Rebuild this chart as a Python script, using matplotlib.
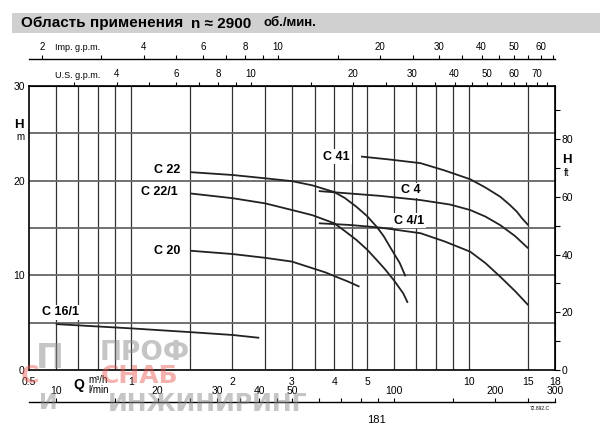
import matplotlib.pyplot as plt
import matplotlib.ticker as mticker
from matplotlib.patches import Rectangle

plt.rcParams['font.family'] = ['Liberation Sans', 'DejaVu Sans']

# Q, m3/h  /  H, m
q_c16_1 = [0.6, 1.0, 1.5, 2.0, 2.4]
h_c16_1 = [4.85, 4.4, 4.0, 3.7, 3.4]

q_c20 = [1.5, 2.0, 2.5, 3.0, 3.45, 3.76, 4.05, 4.39, 4.75]
h_c20 = [12.6, 12.25, 11.85, 11.45, 10.75, 10.32, 9.85, 9.35, 8.8]

q_c22 = [1.5, 2.0, 2.5, 3.0, 3.45, 4.0, 4.3, 4.65, 5.0, 5.35, 5.6, 5.85, 6.25, 6.5]
h_c22 = [20.9, 20.6, 20.25, 19.95, 19.5, 18.8, 18.17, 17.25, 16.27, 15.1, 14.15, 13.0, 11.3, 9.9]

q_c22_1 = [1.5, 2.0, 2.5, 3.0, 3.45, 4.0, 4.3, 4.65, 5.0, 5.35, 5.66, 6.0, 6.4, 6.6]
h_c22_1 = [18.65, 18.15, 17.6, 16.9, 16.35, 15.5, 14.68, 13.75, 12.73, 11.6, 10.62, 9.5, 8.1, 7.1]

q_c41 = [4.8, 5.85, 7.2, 8.5, 10.1, 11.2, 12.4, 13.24, 13.9, 14.35, 15.0]
h_c41 = [22.55, 22.23, 21.85, 21.07, 20.15, 19.28, 18.3, 17.43, 16.7, 16.06, 15.3]

q_c4 = [3.6, 5.45, 7.2, 8.8, 10.1, 11.2, 12.4, 13.71, 15.0]
h_c4 = [18.9, 18.4, 17.95, 17.48, 16.9, 16.21, 15.3, 14.15, 12.85]

q_c4_1 = [3.6, 4.45, 5.45, 7.2, 8.5, 10.1, 11.2, 12.4, 13.71, 15.0]
h_c4_1 = [15.5, 15.32, 15.05, 14.45, 13.57, 12.5, 11.3, 9.85, 8.34, 6.85]

curves = [
    (q_c16_1, h_c16_1, 'C 16/1', 0.62, 6.1, 'center'),
    (q_c20, h_c20, 'C 20', 1.40, 12.57, 'right'),
    (q_c22, h_c22, 'C 22', 1.40, 21.1, 'right'),
    (q_c22_1, h_c22_1, 'C 22/1', 1.38, 18.83, 'right'),
    (q_c41, h_c41, 'C 41', 4.07, 22.53, 'center'),
    (q_c4, h_c4, 'C 4', 6.75, 19.0, 'center'),
    (q_c4_1, h_c4_1, 'C 4/1', 6.68, 15.77, 'center'),
]

grid_q = [0.6, 0.7, 0.8, 0.9, 1, 1.5, 2, 2.5, 3, 3.5, 4, 4.5, 5, 6, 7, 8, 9, 10, 15]
grid_h = [5, 10, 15, 20, 25]

q_ticks = [0.5, 1, 2, 3, 4, 5, 10, 15, 18]
q_labels = ['0.5', '1', '2', '3', '4', '5', '10', '15', '18']
h_ticks = [0, 10, 20, 30]

lmin_major = [10, 20, 30, 40, 50, 100, 200, 300]
lmin_minor = [15, 25, 35, 45, 60, 70, 80, 90, 150, 250]
us_major = [4, 6, 8, 10, 20, 30, 40, 50, 60, 70]
us_minor = [3, 5, 7, 9, 15, 25, 35, 45, 55, 65, 75]
imp_major = [2, 4, 6, 8, 10, 20, 30, 40, 50, 60]
imp_minor = [3, 5, 7, 9, 15, 25, 35, 45, 55, 65]
ft_major = [0, 20, 40, 60, 80]
ft_minor = [10, 30, 50, 70, 90]

fig = plt.figure(figsize=(6, 4.34), dpi=100)
ax = fig.add_axes([29 / 600, 64 / 434, 526 / 600, 284 / 434])
ax.set_xscale('log')
ax.set_xlim(0.5, 18)
ax.set_ylim(0, 30)

for g in grid_q:
    ax.axvline(g, color='#333333', lw=0.9, zorder=1)
for g in grid_h:
    ax.axhline(g, color='#666666', lw=1.3, zorder=1)

for q, h, name, lx, ly, ha in curves:
    ax.plot(q, h, color='#222222', lw=1.3, zorder=4, solid_capstyle='butt',
            solid_joinstyle='round')
    ax.text(lx, ly, name, ha=ha, va='center', fontsize=9, fontweight='bold',
            zorder=3, bbox=dict(facecolor='white', edgecolor='none', pad=1.2))

ax.set_xticks(q_ticks, q_labels)
ax.xaxis.set_minor_locator(mticker.NullLocator())
ax.set_yticks(h_ticks)
ax.tick_params(axis='x', length=0, pad=5, labelsize=7.5)
ax.tick_params(axis='y', length=0, pad=3, labelsize=7.5)
for s in ax.spines.values():
    s.set_linewidth(1.2)

def fmt(vals):
    return [str(v) for v in vals]

# U.S. g.p.m.
us = ax.secondary_xaxis('top', functions=(lambda q: q / 0.2271247, lambda g: g * 0.2271247))
us.set_ticks(us_major, fmt(us_major))
us.xaxis.set_minor_locator(mticker.FixedLocator(us_minor))
us.xaxis.set_minor_formatter(mticker.NullFormatter())
us.tick_params(which='both', direction='out', length=3, width=0.8, labelsize=7, pad=2)

# Imp. g.p.m.
imp = ax.secondary_xaxis(1.095, functions=(lambda q: q / 0.2727655, lambda g: g * 0.2727655))
imp.set_ticks(imp_major, fmt(imp_major))
imp.xaxis.set_minor_locator(mticker.FixedLocator(imp_minor))
imp.xaxis.set_minor_formatter(mticker.NullFormatter())
imp.tick_params(which='both', direction='out', length=3, width=0.8, labelsize=7, pad=2)
imp.spines['top'].set_linewidth(1.0)

# l/min
lm = ax.secondary_xaxis(-0.1116, functions=(lambda q: q * 1000 / 60, lambda l: l * 60 / 1000))
lm.set_alignment('top')
lm.set_ticks(lmin_major, fmt(lmin_major))
lm.xaxis.set_minor_locator(mticker.FixedLocator(lmin_minor))
lm.xaxis.set_minor_formatter(mticker.NullFormatter())
lm.tick_params(which='both', direction='out', length=3, width=0.8, labelsize=7.5, pad=1)
lm.spines['top'].set_linewidth(1.0)

# H ft
ft = ax.secondary_yaxis('right', functions=(lambda m: m / 0.3048, lambda f: f * 0.3048))
ft.set_ticks(ft_major, fmt(ft_major))
ft.yaxis.set_minor_locator(mticker.FixedLocator(ft_minor))
ft.yaxis.set_minor_formatter(mticker.NullFormatter())
ft.tick_params(which='both', direction='out', length=3.6, width=0.8, labelsize=7.5, pad=1)

def px(x, y):
    return x / 600, 1 - y / 434

fig.text(*px(55, 48), 'Imp. g.p.m.', fontsize=6.5, va='center')
fig.text(*px(55, 75), 'U.S. g.p.m.', fontsize=6.5, va='center')
fig.text(*px(19, 125), 'H', fontsize=9.5, fontweight='bold', ha='center', va='center')
fig.text(*px(20, 137), 'm', fontsize=7, ha='center', va='center')
fig.text(*px(567, 160), 'H', fontsize=9.5, fontweight='bold', ha='center', va='center')
fig.text(*px(567, 173), 'ft', fontsize=7, ha='center', va='center')
fig.text(*px(79, 385), 'Q', fontsize=10, fontweight='bold', ha='center', va='center')
fig.text(*px(88, 380), 'm³/h', fontsize=7, va='center')
fig.text(*px(88, 390), 'l/min', fontsize=7, va='center')
fig.text(*px(376, 420), '181', fontsize=8, ha='center', va='center')
fig.text(*px(540, 408), '72.892.C', fontsize=3.5, ha='center', va='center')

# title bar
fig.add_artist(Rectangle(px(12, 33), 588 / 600, 20 / 434, transform=fig.transFigure,
                         facecolor='#d0d0d0', edgecolor='none', zorder=0))
fig.text(*px(21, 23.5), 'Область применения', fontsize=11, fontweight='bold', va='center')
fig.text(*px(191, 23.5), 'n ≈ 2900', fontsize=11, fontweight='bold', va='center')
fig.text(*px(263, 23.5), 'об./мин.', fontsize=9.5, fontweight='bold', va='center')

# watermark
wm_gray = dict(color='#8c8c8c', alpha=0.5, fontweight='bold', family='DejaVu Sans',
               ha='center', va='center')
wm_red = dict(color='#e8554e', alpha=0.45, fontweight='bold', family='DejaVu Sans',
              ha='center', va='center')
fig.text(*px(50, 358), 'П', fontsize=24, **wm_gray)
fig.text(*px(30, 376), 'С', fontsize=18, **wm_red)
fig.text(*px(48, 403), 'И', fontsize=16, **wm_gray)
fig.text(*px(145, 353), 'ПРОФ', fontsize=19, **wm_gray)
fig.text(*px(140, 376), 'СНАБ', fontsize=18, **wm_red)
fig.text(*px(208, 404), 'ИНЖИНИРИНГ', fontsize=17, **wm_gray)

fig.savefig('out.png', dpi=100)
